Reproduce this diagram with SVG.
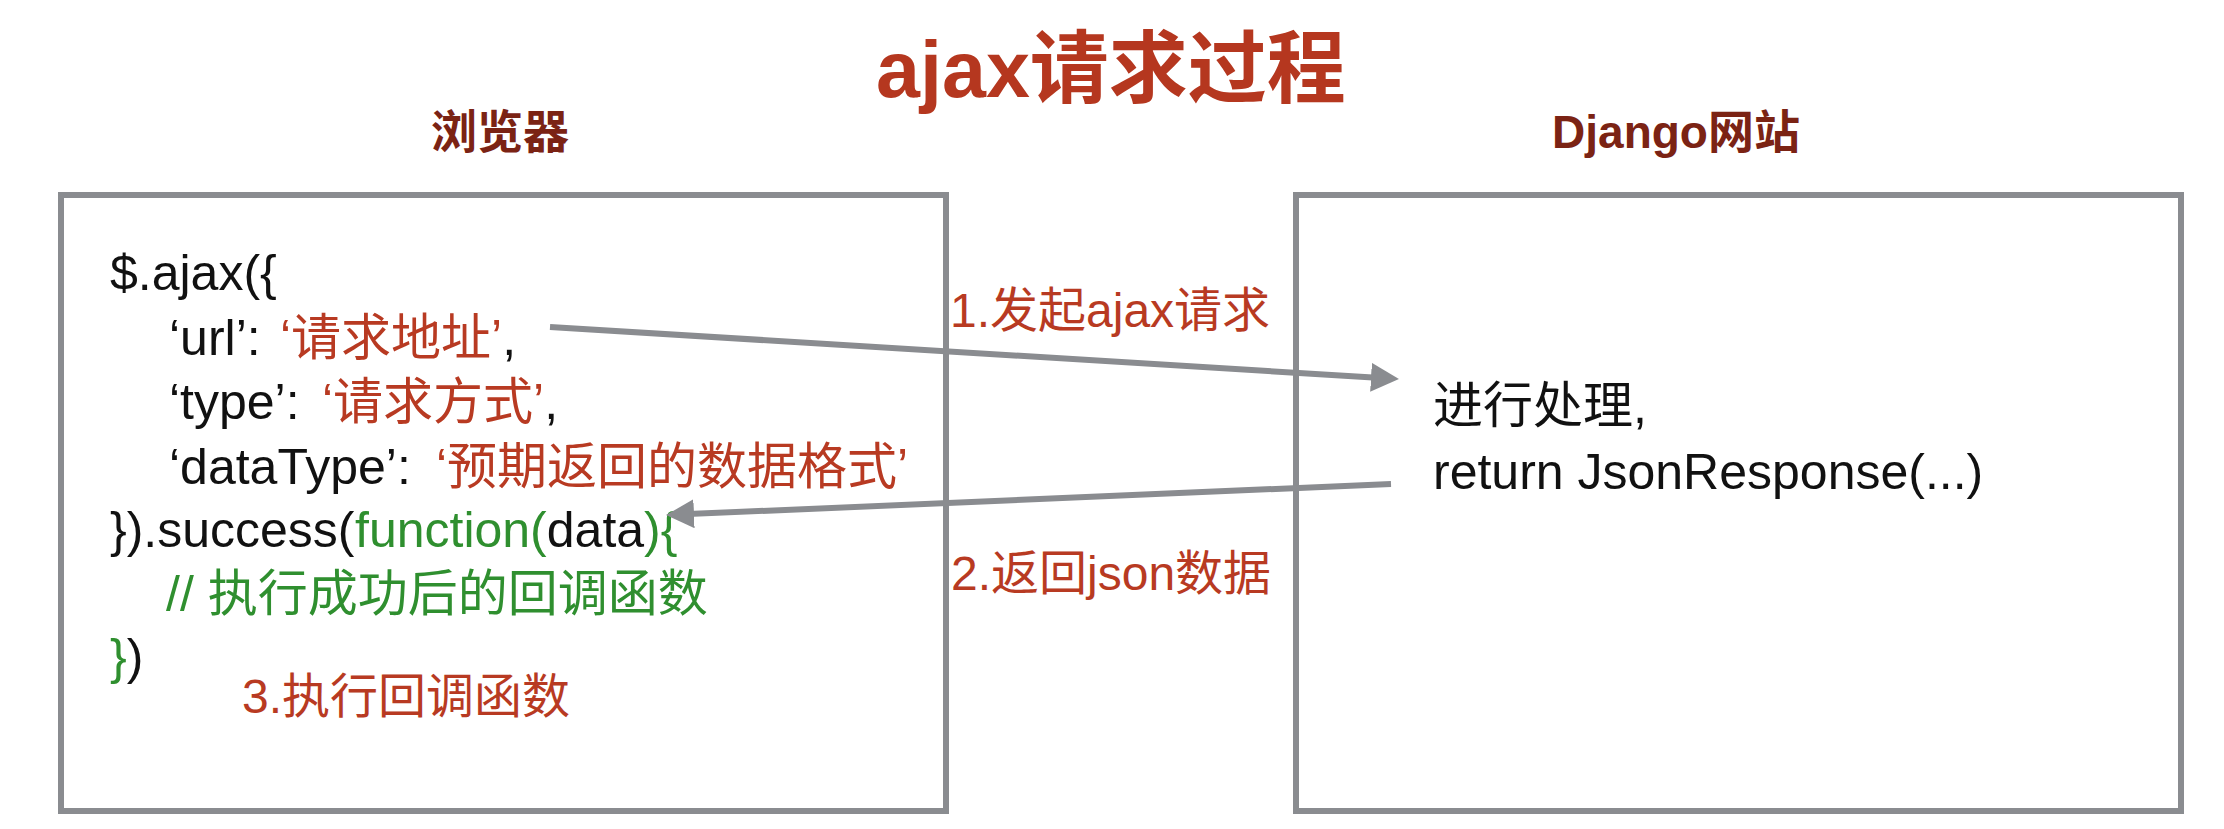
<svg xmlns="http://www.w3.org/2000/svg" width="2224" height="829" viewBox="0 0 2224 829">
<style>
text{font-family:"Liberation Sans","Noto Sans CJK SC",sans-serif;}
.box{fill:#fff;stroke:#8A8C90;stroke-width:6;}
.title{font-size:79px;font-weight:bold;fill:#B5371F;}
.head{font-size:46px;font-weight:bold;fill:#7B2314;}
.code{font-size:50px;fill:#111;}
.red{fill:#B83A22;}
.grn{fill:#2F8F2F;}
.lbl{font-size:48px;fill:#B83A22;}
.conn{stroke:#8A8C90;stroke-width:6;fill:none;marker-end:url(#ah);}
</style>
<defs>
<marker id="ah" markerUnits="userSpaceOnUse" markerWidth="30" markerHeight="30" refX="6" refY="14.5" orient="auto">
<path d="M0,0 L28,14.5 L0,29 Z" fill="#8A8C90"/>
</marker>
</defs>
<rect width="2224" height="829" fill="#fff"/>
<text class="title" x="1111" y="97" text-anchor="middle">ajax请求过程</text>
<g id="browser">
<text class="head" x="500" y="148" text-anchor="middle">浏览器</text>
<rect class="box" x="61" y="195" width="885" height="616"/>
<text class="code" x="110" y="290">$.ajax({</text>
<text class="code" y="355"><tspan x="169">‘url’: </tspan><tspan x="280" class="red">‘请求地址’</tspan><tspan>,</tspan></text>
<text class="code" y="419"><tspan x="169">‘type’: </tspan><tspan x="322" class="red">‘请求方式’</tspan><tspan>,</tspan></text>
<text class="code" y="484"><tspan x="169">‘dataType’: </tspan><tspan x="436" class="red">‘预期返回的数据格式’</tspan></text>
<text class="code" y="547"><tspan x="110">}).success(</tspan><tspan x="355" class="grn">function(</tspan><tspan>data</tspan><tspan class="grn">){</tspan></text>
<text class="code grn" x="166" y="611">// 执行成功后的回调函数</text>
<text class="code" y="674"><tspan x="110" class="grn">}</tspan><tspan>)</tspan></text>
<text class="lbl" x="242" y="713">3.执行回调函数</text>
</g>
<g id="django">
<text class="head" x="1676" y="148" text-anchor="middle">Django网站</text>
<rect class="box" x="1296" y="195" width="885" height="616"/>
<text class="code" x="1433" y="423">进行处理,</text>
<text class="code" x="1433" y="489">return JsonResponse(...)</text>
</g>
<g id="connectors">
<line class="conn" x1="550" y1="327" x2="1377" y2="377.7"/>
<text class="lbl" x="950" y="327">1.发起ajax请求</text>
<line class="conn" x1="1391" y1="484" x2="688" y2="514.1"/>
<text class="lbl" x="951" y="590">2.返回json数据</text>
</g>
</svg>
